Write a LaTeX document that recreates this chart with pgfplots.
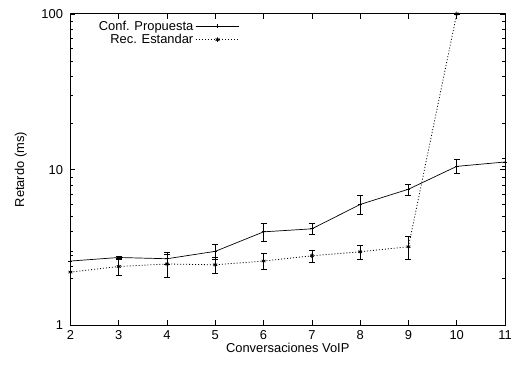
\documentclass[border=0pt]{standalone}
\usepackage{pgfplots}
\pgfplotsset{compat=1.18}
\usepackage{fontspec}
\setmainfont{Liberation Sans}
\begin{document}
\fontsize{13}{15}\selectfont
\begin{tikzpicture}
\begin{axis}[
  scale only axis,
  width=438pt, height=314pt,
  xmin=2, xmax=11,
  ymode=log, ymin=1, ymax=100,
  xtick={2,3,4,5,6,7,8,9,10,11},
  ytick={1,10,100},
  yticklabels={1,10,100},
  /pgf/number format/assume math mode=true,
  tick label style={font=\fontsize{13}{15}\selectfont},
  label style={font=\fontsize{13}{15}\selectfont},
  tick align=inside,
  major tick length=5pt,
  minor tick length=3pt,
  tick style={black, line width=0.5pt},
  axis line style={line width=0.8pt},
  xlabel={Conversaciones VoIP},
  ylabel={Retardo (ms)},
  xticklabel style={yshift=-1pt},
  yticklabel style={xshift=-3pt},
  xlabel style={yshift=6pt},
  ylabel style={yshift=6pt},
  legend plot pos=right,
  legend cell align=right,
  legend style={draw=none, fill=none, inner sep=0pt, at={(axis description cs:0.39,0.985)}, anchor=north east,
    row sep=-2pt, font=\fontsize{13}{15}\selectfont},
  legend image code/.code={\draw[mark repeat=2, mark phase=2] plot coordinates {(0pt,0pt) (22pt,0pt) (44pt,0pt)};},
]
\addplot[black, line width=0.7pt, mark=+, mark size=2pt,
  error bars/.cd, y dir=both, y explicit,
  error bar style={line width=0.7pt},
  error mark options={rotate=90, mark size=3pt, line width=0.7pt}]
  table[x=x, y=y, y error=e] {
x y e
2 2.59 0.21
3 2.73 0.06
4 2.68 0.20
5 2.99 0.33
6 3.99 0.50
7 4.17 0.35
8 5.98 0.85
9 7.49 0.60
10 10.5 1.10
11 11.2 0.70
};
\addlegendentry{Conf. Propuesta}
\addplot[black, line width=0.8pt, dash pattern=on 1pt off 2pt, mark=asterisk, mark size=2.2pt,
  mark options={solid, line width=0.8pt},
  error bars/.cd, y dir=both, y explicit,
  error bar style={line width=0.7pt, solid},
  error mark options={rotate=90, mark size=3pt, line width=0.7pt, solid}]
  table[x=x, y=y, y error=e] {
x y e
2 2.20 0.18
3 2.39 0.30
4 2.48 0.45
5 2.45 0.30
6 2.59 0.30
7 2.80 0.25
8 2.97 0.30
9 3.20 0.55
10 100 0
};
\addlegendentry{Rec. Estandar}
\end{axis}
\path ([shift={(-71pt,-43pt)}]current axis.south west) rectangle ([shift={(7pt,14pt)}]current axis.north east);
\end{tikzpicture}
\end{document}
